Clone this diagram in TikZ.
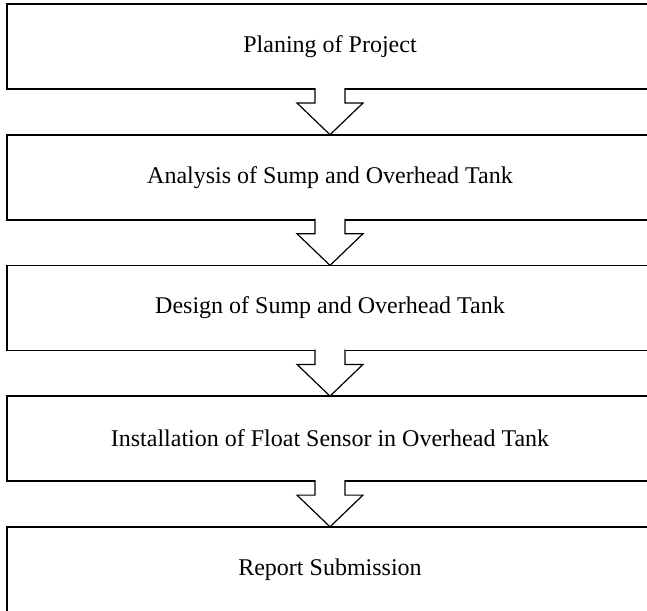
\documentclass[tikz,border=0pt]{standalone}
\usepackage{fontspec}
\setmainfont{Liberation Serif}
\usetikzlibrary{positioning,calc}

\begin{document}
\begin{tikzpicture}[x=1pt,y=1pt,
  stepbox/.style={draw,line width=1.8pt,minimum width=646pt,minimum height=85pt,
    outer sep=0pt,inner sep=0pt,font=\fontsize{24}{28}\selectfont},
  hollow/.style={draw,fill=white,line width=1.2pt,line join=miter},
  node distance=45.7pt]
\useasboundingbox (0,0) rectangle (647,-610);
\clip (0,0) rectangle (647,-610);
% Stages
\node[stepbox] (plan) at (330,-46.5) {Planing of Project};
\node[stepbox,below=of plan] (analysis) {Analysis of Sump and Overhead Tank};
\node[stepbox,below=of analysis] (design) {Design of Sump and Overhead Tank};
\node[stepbox,below=of design] (install) {Installation of Float Sensor in Overhead Tank};
\node[stepbox,below=of install] (report) {Report Submission};
% Hollow arrows between stages
\foreach \a/\b in {plan/analysis,analysis/design,design/install,install/report}{
  \draw[hollow] ($(\a.south)+(-15,0.9)$) -- ++(0,-14.9) -- ++(-18,0) -- (\b.north)
    -- ($(\a.south)+(33,-14)$) -- ++(-18,0) -- ++(0,14.9);
}
\end{tikzpicture}
\end{document}
